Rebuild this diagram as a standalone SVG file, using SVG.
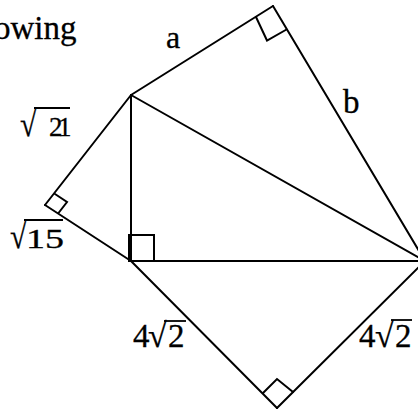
<svg xmlns="http://www.w3.org/2000/svg" width="418" height="410" viewBox="0 0 418 410">
<style>
.ln{stroke:#000;stroke-width:2;fill:none;stroke-linecap:round;stroke-linejoin:miter}
.t{font-family:"Liberation Serif","Times New Roman",serif;fill:#000;stroke:#000;stroke-width:0.3}
.ov{stroke:#000;stroke-width:1.8}
</style>
<rect width="418" height="410" fill="#fff"/>
<text class="t" x="-6" y="39" font-size="33">owing</text>
<g id="connectors">
<line class="ln" x1="131" y1="95" x2="273" y2="6"/>
<line class="ln" x1="273" y1="6" x2="425" y2="261"/>
<line class="ln" x1="131" y1="95" x2="425" y2="261"/>
<line class="ln" x1="131" y1="95" x2="131" y2="261"/>
<line class="ln" x1="131" y1="95" x2="45" y2="205"/>
<line class="ln" x1="45" y1="205" x2="131" y2="261"/>
<line class="ln" x1="131" y1="261" x2="425" y2="261" stroke-width="2.5"/>
<line class="ln" x1="131" y1="261" x2="277" y2="408"/>
<line class="ln" x1="277" y1="408" x2="425" y2="261"/>
</g>
<g id="right-angle-top"><polyline class="ln" points="256,17 267,40.5 286.5,29.5"/></g>
<g id="right-angle-left"><polyline class="ln" points="55,194 67,202 58.5,213"/></g>
<g id="right-angle-bottom"><polyline class="ln" points="263,393 277,379 293,392"/></g>
<g id="right-angle-center"><rect class="ln" x="129" y="235" width="25" height="26"/></g>
<g id="label-a"><text class="t" x="166" y="48" font-size="32">a</text></g>
<g id="label-b"><text class="t" x="343" y="113" font-size="33">b</text></g>
<g id="label-sqrt21">
<text class="t" transform="translate(20,136) scale(0.85,1)" font-size="35">√</text>
<line class="ov" x1="34" y1="108" x2="70" y2="108"/>
<text class="t" x="49" y="136" font-size="27">2</text>
<text class="t" x="58" y="136" font-size="27">1</text>
</g>
<g id="label-sqrt15">
<text class="t" transform="translate(10,248) scale(0.85,1)" font-size="35">√</text>
<line class="ov" x1="24" y1="220" x2="63" y2="220"/>
<text class="t" x="26" y="248" font-size="28" textLength="38" lengthAdjust="spacingAndGlyphs">15</text>
</g>
<g id="label-4sqrt2-left">
<text class="t" x="133" y="347" font-size="33">4</text>
<text class="t" x="148" y="347" font-size="34">√</text>
<line class="ov" x1="164" y1="321" x2="186" y2="321"/>
<text class="t" x="168" y="347" font-size="33">2</text>
</g>
<g id="label-4sqrt2-right">
<text class="t" x="359" y="347" font-size="33">4</text>
<text class="t" x="375" y="347" font-size="34">√</text>
<line class="ov" x1="391" y1="320" x2="412" y2="320"/>
<text class="t" x="395" y="347" font-size="33">2</text>
</g>
</svg>
